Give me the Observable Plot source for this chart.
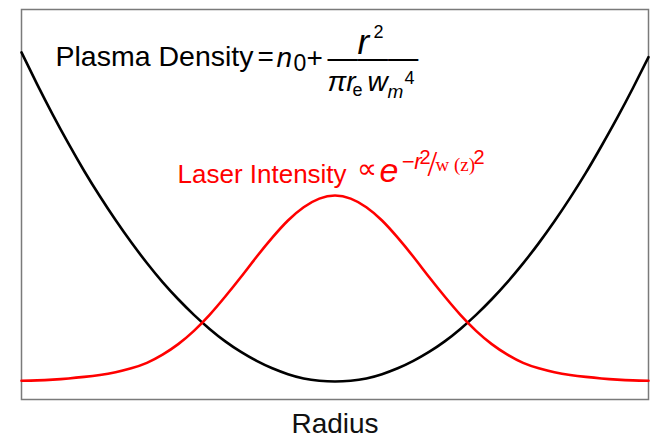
<!DOCTYPE html>
<html>
<head>
<meta charset="utf-8">
<script src="https://cdn.jsdelivr.net/npm/d3@7"></script>
<script src="https://cdn.jsdelivr.net/npm/@observablehq/plot@0.6"></script>
<style>
  body { margin: 0; background: #fff; }
</style>
</head>
<body>
<div id="chart"></div>
<script>
// Normalised radius across the channel (centre at 0)
const radius = [
  -1.00, -0.95, -0.90, -0.85, -0.80, -0.75, -0.70, -0.65, -0.60, -0.55,
  -0.50, -0.45, -0.40, -0.35, -0.30, -0.25, -0.20, -0.15, -0.10, -0.05,
   0.00,
   0.05,  0.10,  0.15,  0.20,  0.25,  0.30,  0.35,  0.40,  0.45,  0.50,
   0.55,  0.60,  0.65,  0.70,  0.75,  0.80,  0.85,  0.90,  0.95,  1.00
];

// Parabolic plasma density profile (relative units)
const density = [
  0.890, 0.808, 0.730, 0.656, 0.586, 0.521, 0.460, 0.403, 0.350, 0.301,
  0.257, 0.217, 0.181, 0.149, 0.122, 0.099, 0.080, 0.065, 0.054, 0.048,
  0.046,
  0.048, 0.054, 0.065, 0.080, 0.099, 0.122, 0.149, 0.181, 0.217, 0.257,
  0.301, 0.349, 0.401, 0.457, 0.517, 0.581, 0.650, 0.722, 0.798, 0.878
];

// Gaussian laser intensity profile (relative units)
const intensity = [
  0.048, 0.049, 0.051, 0.054, 0.058, 0.063, 0.070, 0.080, 0.094, 0.115,
  0.142, 0.176, 0.217, 0.264, 0.314, 0.366, 0.415, 0.459, 0.493, 0.515,
  0.523,
  0.515, 0.493, 0.459, 0.415, 0.366, 0.314, 0.264, 0.217, 0.176, 0.142,
  0.115, 0.094, 0.080, 0.070, 0.063, 0.058, 0.054, 0.051, 0.049, 0.048
];

const xLabel = "Radius";

const rows = radius.map((r, i) => ({r, density: density[i], intensity: intensity[i]}));

// One run of formula text, placed relative to the frame's top-left corner
// (baseline at dy, left edge at dx).
function run(str, dx, dy, opts = {}) {
  return Plot.text([str], {
    text: d => d,
    frameAnchor: "top-left",
    textAnchor: "start",
    lineAnchor: "bottom",
    dx, dy,
    ...opts
  });
}

const ink = {fill: "#000"};
const red = {fill: "#ff0000"};
const serif = "'Liberation Serif', 'Times New Roman', serif";

// Plasma Density = n0 + r^2 / (π r_e w_m^4)
const densityFormula = [
  run("Plasma Density", 34, 56, {...ink, fontSize: 28.5}),
  run("=", 236, 56, {...ink, fontSize: 28}),
  run("n", 255, 57, {...ink, fontSize: 28, fontStyle: "italic"}),
  run("0", 272, 61, {...ink, fontSize: 23}),
  run("+", 285, 57, {...ink, fontSize: 28}),
  run("r", 336, 44, {...ink, fontSize: 35, fontStyle: "italic"}),
  run("2", 352, 28, {...ink, fontSize: 18}),
  run("———", 306, 58, {...ink, fontSize: 30.3}),
  run("πr", 306, 81, {...ink, fontSize: 28, fontStyle: "italic"}),
  run("e", 331, 86, {...ink, fontSize: 18}),
  run("w", 346, 81, {...ink, fontSize: 28, fontStyle: "italic"}),
  run("m", 366, 88, {...ink, fontSize: 19, fontStyle: "italic"}),
  run("4", 383, 74, {...ink, fontSize: 18})
];

// Laser Intensity ∝ e^(−r²/w(z)²)
const intensityFormula = [
  run("Laser Intensity", 156, 173, {...red, fontSize: 26}),
  run("∝", 335, 168, {...red, fontSize: 28}),
  run("e", 358, 172, {...red, fontSize: 34, fontStyle: "italic"}),
  run("−r", 380, 159, {...red, fontSize: 22, fontStyle: "italic"}),
  run("2", 398, 154, {...red, fontSize: 20}),
  run("/", 406, 166, {...red, fontSize: 35, fontFamily: serif}),
  run("w (z)", 414, 161, {...red, fontSize: 19, fontFamily: serif}),
  run("2", 452, 154, {...red, fontSize: 20})
];

const chart = Plot.plot({
  width: 650,
  height: 437,
  marginLeft: 21,
  marginRight: 2,
  marginTop: 9,
  marginBottom: 38,
  style: {fontFamily: "'Liberation Sans', Arial, sans-serif", background: "#fff"},
  x: {domain: [-1, 1], axis: null},
  y: {domain: [0, 1], axis: null},
  marks: [
    Plot.frame({stroke: "#7a7a7a", strokeWidth: 1.5}),
    Plot.line(rows, {x: "r", y: "density", stroke: "#000", strokeWidth: 2.6, curve: "natural"}),
    Plot.line(rows, {x: "r", y: "intensity", stroke: "#ff0000", strokeWidth: 2.6, curve: "natural"}),
    ...densityFormula,
    ...intensityFormula,
    Plot.text([xLabel], {
      text: d => d,
      frameAnchor: "bottom",
      lineAnchor: "bottom",
      dy: 33,
      fontSize: 28,
      fill: "#111"
    })
  ]
});

document.getElementById("chart").append(chart);
</script>
</body>
</html>
